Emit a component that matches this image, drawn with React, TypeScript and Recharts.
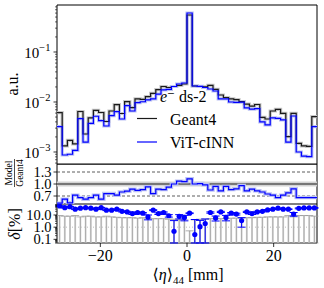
import React from 'react';
import { ComposedChart, Line, XAxis, YAxis, ReferenceLine, ReferenceArea, Scatter, ErrorBar } from 'recharts';

// ---------- data ----------
const binEdges = [
  -30, -28.8, -27.6, -26.4, -25.2, -24, -22.8, -21.6, -20.4, -19.2, -18, -16.8, -15.6, -14.4, -13.2, -12, -10.8,
  -9.6, -8.4, -7.2, -6, -4.8, -3.6, -2.4, -1.2, 0, 1.2, 2.4, 3.6, 4.8, 6, 7.2, 8.4, 9.6, 10.8, 12, 13.2, 14.4,
  15.6, 16.8, 18, 19.2, 20.4, 21.6, 22.8, 24, 25.2, 26.4, 27.6, 28.8, 30,
];

const geant4 = [
  0.00611, 0.00132, 0.0017, 0.00145, 0.00646, 0.00229, 0.00479, 0.00682, 0.00617, 0.00407,
  0.00661, 0.00883, 0.00589, 0.0102, 0.00769, 0.0115, 0.0113, 0.0128, 0.0149, 0.0176,
  0.0204, 0.0195, 0.0204, 0.0214, 0.0229, 0.55, 0.0209, 0.0204, 0.02, 0.0214,
  0.0178, 0.0138, 0.0123, 0.0115, 0.0112, 0.0102, 0.0091, 0.0083, 0.0089, 0.00494,
  0.00457, 0.00661, 0.00714, 0.00594, 0.00202, 0.00594, 0.00149, 0.00132, 0.00129, 0.00508,
];

const vitCinn = [
  0.00321, 0.00087, 0.0009, 0.00108, 0.00463, 0.00158, 0.00375, 0.00518, 0.00423, 0.00331,
  0.00532, 0.0064, 0.00457, 0.00843, 0.00661, 0.00968, 0.0101, 0.011, 0.0115, 0.0143,
  0.0174, 0.0179, 0.0204, 0.0229, 0.024, 0.603, 0.0209, 0.0206, 0.0195, 0.0182,
  0.0166, 0.0115, 0.0115, 0.01, 0.0098, 0.0099, 0.0076, 0.0072, 0.0074, 0.004,
  0.00347, 0.00479, 0.00472, 0.00437, 0.00158, 0.00525, 0.001, 0.00083, 0.00081, 0.00321,
];

const ratioModelGeant4 = [
  0.52, 0.62, 0.53, 0.72, 0.66, 0.62, 0.66, 0.72, 0.62, 0.76,
  0.76, 0.72, 0.8, 0.82, 0.87, 0.84, 0.86, 0.93, 0.76, 0.87,
  0.86, 0.92, 1.0, 1.07, 1.06, 1.13, 1.0, 1.01, 0.98, 0.85,
  0.94, 0.83, 0.94, 0.86, 0.88, 0.96, 0.83, 0.87, 0.83, 0.8,
  0.75, 0.72, 0.66, 0.72, 0.78, 0.88, 0.66, 0.66, 0.66, 0.66,
];

const deltaPercent = [
  55, 40, 48, 30, 36, 40, 36, 30, 40, 25,
  25, 30, 20, 18, 13, 16, 14, 7, 25, 13,
  16, 8.7, 0.46, 7.7, 6.3, 14, 0.25, 1.1, 2.0, 16,
  5.7, 18, 6.3, 14, 12, 3.5, 18, 13, 18, 20,
  26, 30, 36, 30, 30, 12, 35, 38, 38, 38,
];

const deltaError = [
  3, 3, 3, 2, 2, 2, 2, 2, 2, 2,
  2, 2, 2, 2, 2, 2, 2, 3, 2, 2,
  2, 2, 3, 3, 3, 1, 4, 2.5, 2.7, 2,
  2.5, 2, 3, 2, 2, 2.5, 2, 2, 2, 2,
  2, 2, 2, 2, 2, 4, 3, 3, 3, 3,
];

const geant4DeltaUnc = [
  9, 8, 8, 9, 7, 8, 8, 7, 7, 8,
  7, 6.5, 6, 6, 6, 5.5, 6, 5.5, 5, 5,
  5, 4.5, 4.5, 4, 4, 0.5, 4, 4.5, 4.5, 5,
  5, 5, 5, 5.5, 5.5, 6, 6, 6, 6.5, 6.5,
  7, 7, 7, 7, 9, 7, 9, 9, 9, 8,
];

const topMajorTicks = [0.001, 0.01, 0.1];
const topTickExponents = ['\u22123', '\u22122', '\u22121'];
const topMinorTicks = [
  0.0006, 0.0007, 0.0008, 0.0009,
  0.002, 0.003, 0.004, 0.005, 0.006, 0.007, 0.008, 0.009,
  0.02, 0.03, 0.04, 0.05, 0.06, 0.07, 0.08, 0.09,
  0.2, 0.3, 0.4, 0.5, 0.6, 0.7, 0.8,
];
const ratioTicks = [0.7, 1.0, 1.3];
const ratioTickLabels = ['0.7', '1.0', '1.3'];
const deltaMajorTicks = [0.1, 1, 10];
const deltaTickLabels = ['0.1', '1.0', '10.0'];
const deltaMinorTicks = [
  0.05, 0.06, 0.07, 0.08, 0.09,
  0.2, 0.3, 0.4, 0.5, 0.6, 0.7, 0.8, 0.9,
  2, 3, 4, 5, 6, 7, 8, 9,
  20, 30, 40, 50, 60, 70, 80,
];
const xTicks = [-20, 0, 20];
const seriesNames = ['Geant4', 'ViT-cINN'];

const TOP_DOMAIN: [number, number] = [0.000575, 0.871];
const RATIO_DOMAIN: [number, number] = [0.5, 1.5];
const DELTA_DOMAIN: [number, number] = [0.05, 80];
const X_DOMAIN: [number, number] = [-30, 30];

// ---------- tables ----------
const stepRows = binEdges.map((x, i) => {
  const j = Math.min(i, geant4.length - 1);
  return { x, g: geant4[j], v: vitCinn[j], r: ratioModelGeant4[j] };
});

const pointRows = deltaPercent.map((d, i) => ({
  x: (binEdges[i] + binEdges[i + 1]) / 2,
  d,
  dErr: [Math.min(deltaError[i], d - DELTA_DOMAIN[0]), deltaError[i]],
  s: geant4DeltaUnc[i],
  sErr: [geant4DeltaUnc[i] - DELTA_DOMAIN[0], 0],
}));

// ---------- style ----------
const FONT = "'Liberation Serif', 'DejaVu Serif', serif";
const BLUE = '#0000ff';
const BLACK = '#1a1a1a';
const TICK_FS = 14.5;

const TopTick = (props: any) => {
  const { x, y, payload } = props;
  const idx = topMajorTicks.indexOf(payload.value);
  if (idx < 0) {
    return <line x1={x - 2} x2={x} y1={y} y2={y} stroke="#000" strokeWidth={0.6} />;
  }
  return (
    <g>
      <line x1={x - 3.5} x2={x} y1={y} y2={y} stroke="#000" strokeWidth={0.8} />
      <text x={x - 6.5} y={y + 6} textAnchor="end" fontFamily={FONT} fontSize={15} fill="#000">
        10<tspan dy={-7} fontSize={10.5}>{topTickExponents[idx]}</tspan>
      </text>
    </g>
  );
};

const RatioTick = (props: any) => {
  const { x, y, payload } = props;
  const idx = ratioTicks.indexOf(payload.value);
  return (
    <g>
      <line x1={x - 3.5} x2={x} y1={y} y2={y} stroke="#000" strokeWidth={0.8} />
      <text x={x - 5.5} y={y + 5} textAnchor="end" fontFamily={FONT} fontSize={TICK_FS} fill="#000">
        {ratioTickLabels[idx]}
      </text>
    </g>
  );
};

const DeltaTick = (props: any) => {
  const { x, y, payload } = props;
  const idx = deltaMajorTicks.indexOf(payload.value);
  if (idx < 0) {
    return <line x1={x - 2} x2={x} y1={y} y2={y} stroke="#000" strokeWidth={0.6} />;
  }
  return (
    <g>
      <line x1={x - 3.5} x2={x} y1={y} y2={y} stroke="#000" strokeWidth={0.8} />
      <text x={x - 5.5} y={y + 5} textAnchor="end" fontFamily={FONT} fontSize={TICK_FS} fill="#000">
        {deltaTickLabels[idx]}
      </text>
    </g>
  );
};

const xFmt = (v: number) => (v < 0 ? '\u2212' + Math.abs(v) : String(v));

const Dot = (p: any) => <circle cx={p.cx} cy={p.cy} r={2.6} fill={BLUE} />;
const NoShape = () => <g />;

export default function App() {
  return (
    <div style={{ position: 'absolute', left: 0, top: 0, width: 324, height: 288, background: '#fff', overflow: 'hidden' }}>
      {/* top panel */}
      <div style={{ position: 'absolute', left: 0, top: 0 }}>
        <ComposedChart width={324} height={165} data={stepRows} margin={{ top: 5, right: 7, bottom: 1, left: 0 }}>
          <XAxis type="number" dataKey="x" domain={X_DOMAIN} hide allowDataOverflow />
          <YAxis
            type="number"
            scale="log"
            domain={TOP_DOMAIN}
            allowDataOverflow
            width={57}
            ticks={[...topMajorTicks, ...topMinorTicks]}
            interval={0}
            tick={<TopTick />}
            tickLine={false}
            axisLine={false}
            tickSize={0}
            tickMargin={0}
          />
          <Line type="stepAfter" dataKey="g" stroke="#c8c8c8" strokeWidth={3.2} dot={false} isAnimationActive={false} />
          <Line type="stepAfter" dataKey="v" stroke="#bcc2f4" strokeWidth={3.2} dot={false} isAnimationActive={false} />
          <Line type="stepAfter" dataKey="g" name={seriesNames[0]} stroke={BLACK} strokeWidth={1.2} dot={false} isAnimationActive={false} />
          <Line type="stepAfter" dataKey="v" name={seriesNames[1]} stroke={BLUE} strokeWidth={1.2} dot={false} isAnimationActive={false} />
          <ReferenceArea x1={X_DOMAIN[0]} x2={X_DOMAIN[1]} y1={TOP_DOMAIN[0]} y2={TOP_DOMAIN[1]} fill="none" stroke="#000" strokeWidth={1} fillOpacity={0} />
        </ComposedChart>
      </div>

      {/* ratio panel */}
      <div style={{ position: 'absolute', left: 0, top: 164 }}>
        <ComposedChart width={324} height={40} data={stepRows} margin={{ top: 0, right: 7, bottom: 0, left: 0 }}>
          <XAxis type="number" dataKey="x" domain={X_DOMAIN} hide allowDataOverflow />
          <YAxis
            type="number"
            domain={RATIO_DOMAIN}
            allowDataOverflow
            width={57}
            ticks={ratioTicks}
            interval={0}
            tick={<RatioTick />}
            tickLine={false}
            axisLine={false}
            tickSize={0}
            tickMargin={0}
          />
          <ReferenceLine y={1} stroke="#d4d4d4" strokeWidth={5} />
          <ReferenceLine y={1.3} stroke="#333" strokeWidth={0.8} strokeDasharray="3 2" />
          <ReferenceLine y={0.7} stroke="#333" strokeWidth={0.8} strokeDasharray="3 2" />
          <ReferenceLine y={1} stroke={BLACK} strokeWidth={1.1} />
          <Line type="stepAfter" dataKey="r" stroke="#bcc2f4" strokeWidth={3.5} dot={false} isAnimationActive={false} />
          <Line type="stepAfter" dataKey="r" stroke={BLUE} strokeWidth={1.2} dot={false} isAnimationActive={false} />
          <ReferenceArea x1={X_DOMAIN[0]} x2={X_DOMAIN[1]} y1={RATIO_DOMAIN[0]} y2={RATIO_DOMAIN[1]} fill="none" stroke="#000" strokeWidth={1} fillOpacity={0} />
        </ComposedChart>
      </div>

      {/* delta panel */}
      <div style={{ position: 'absolute', left: 0, top: 204 }}>
        <ComposedChart width={324} height={84} data={pointRows} margin={{ top: 0, right: 7, bottom: 0, left: 0 }}>
          <XAxis
            type="number"
            dataKey="x"
            domain={X_DOMAIN}
            allowDataOverflow
            ticks={xTicks}
            interval={0}
            tickFormatter={xFmt}
            height={45}
            axisLine={false}
            tickSize={4}
            tickMargin={3}
            tickLine={{ stroke: '#000', strokeWidth: 0.8 }}
            tick={{ fontFamily: FONT, fontSize: 16, fill: '#000' }}
          />
          <YAxis
            type="number"
            scale="log"
            domain={DELTA_DOMAIN}
            allowDataOverflow
            width={57}
            ticks={[...deltaMajorTicks, ...deltaMinorTicks]}
            interval={0}
            tick={<DeltaTick />}
            tickLine={false}
            axisLine={false}
            tickSize={0}
            tickMargin={0}
          />
          <ReferenceLine y={1} stroke="#aaa" strokeWidth={0.8} strokeDasharray="1 2" />
          <Scatter dataKey="s" shape={NoShape} isAnimationActive={false}>
            <ErrorBar dataKey="sErr" direction="y" width={0} stroke="#dedede" strokeWidth={2} />
            <ErrorBar dataKey="sErr" direction="y" width={4} stroke="#9a9a9a" strokeWidth={0.8} />
          </Scatter>
          <Scatter dataKey="d" shape={Dot} isAnimationActive={false}>
            <ErrorBar dataKey="dErr" direction="y" width={4} stroke={BLUE} strokeWidth={1} />
          </Scatter>
          <ReferenceArea x1={X_DOMAIN[0]} x2={X_DOMAIN[1]} y1={DELTA_DOMAIN[0]} y2={DELTA_DOMAIN[1]} fill="none" stroke="#000" strokeWidth={1} fillOpacity={0} />
        </ComposedChart>
      </div>

      {/* annotations */}
      <svg width={324} height={288} style={{ position: 'absolute', left: 0, top: 0, pointerEvents: 'none' }}>
        <text transform="translate(12,84) rotate(-90)" textAnchor="middle" dominantBaseline="central" fontFamily={FONT} fontSize={16} fill="#000">
          a.u.
        </text>
        <g transform="translate(14.5,173) rotate(-90)">
          <text x={0} y={-2.5} textAnchor="middle" fontFamily={FONT} fontSize={9.5} fill="#000">Model</text>
          <line x1={-14} x2={14} y1={0} y2={0} stroke="#000" strokeWidth={0.7} />
          <text x={0} y={8} textAnchor="middle" fontFamily={FONT} fontSize={9.5} fill="#000">Geant4</text>
        </g>
        <text transform="translate(14,224) rotate(-90)" textAnchor="middle" dominantBaseline="central" fontFamily={FONT} fontSize={16} fill="#000">
          <tspan fontStyle="italic">δ</tspan>[%]
        </text>
        <text x={188} y={280} textAnchor="middle" fontFamily={FONT} fontSize={16} fill="#000">
          ⟨<tspan fontStyle="italic">η</tspan>⟩<tspan fontSize={11} dy={4}>44</tspan>
          <tspan dy={-4}> [mm]</tspan>
        </text>
        <text x={160} y={101.5} fontFamily={FONT} fontSize={16} fill="#000">
          <tspan fontStyle="italic">e</tspan>
          <tspan fontFamily="'DejaVu Serif', serif" fontSize={15}>{'\u207B'}</tspan>
          <tspan>{' ds-2'}</tspan>
        </text>
        <line x1={137} x2={157} y1={118.5} y2={118.5} stroke={BLACK} strokeWidth={1.2} />
        <text x={170} y={124.5} fontFamily={FONT} fontSize={16} fill="#000">{seriesNames[0]}</text>
        <line x1={137} x2={157} y1={142} y2={142} stroke={BLUE} strokeWidth={1.2} />
        <text x={170} y={148} fontFamily={FONT} fontSize={16} fill="#000">{seriesNames[1]}</text>
      </svg>
    </div>
  );
}
